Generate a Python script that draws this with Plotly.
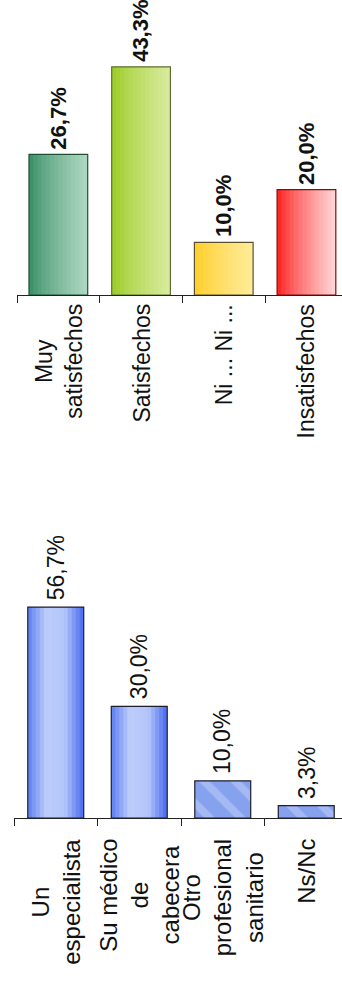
import plotly.graph_objects as go

# datos
cat_sat = ["Muy satisfechos", "Satisfechos", "Ni ... Ni ...", "Insatisfechos"]
lbl_sat = ["Muy<br>satisfechos", "Satisfechos", "Ni ... Ni ...", "Insatisfechos"]
val_sat = [26.7, 43.3, 10.0, 20.0]

cat_prof = ["Un especialista", "Su médico de cabecera", "Otro profesional sanitario", "Ns/Nc"]
lbl_prof = ["Un<br>especialista", "Su médico<br>de<br>cabecera", "Otro<br>profesional<br>sanitario", "Ns/Nc"]
val_prof = [56.7, 30.0, 10.0, 3.3]

FONT = "Liberation Sans, Arial, sans-serif"

# colores (izquierda -> derecha) de cada barra
sat_left = [(52, 140, 98), (152, 202, 30), (255, 204, 34), (255, 22, 22)]
sat_right = [(176, 216, 196), (218, 236, 160), (255, 236, 155), (255, 216, 216)]
sat_edge = ["#1f4f36", "#5f6e34", "#5a5030", "#7a1010"]

prof_cols = [(92, 126, 242), (190, 206, 250), (178, 196, 250), (70, 104, 240)]


def pct(v):
    return f"{v:.1f}%".replace(".", ",")


def mix(c1, c2, t):
    r, g, b = [round(a + (b - a) * t) for a, b in zip(c1, c2)]
    return f"rgb({r},{g},{b})"


def ramp(stops, t):
    n = len(stops) - 1
    k = min(int(t * n), n - 1)
    return mix(stops[k], stops[k + 1], t * n - k)


fig = go.Figure()
N = 14

# grafico superior: satisfaccion (degradado horizontal con tiras)
bw = 0.71
step = bw / N
for i in range(N):
    t = ((i + 0.5) / N) ** 0.75
    fig.add_trace(go.Bar(
        x=cat_sat, y=val_sat, xaxis="x", yaxis="y",
        width=step * (1.4 if i < N - 1 else 1), offset=-bw / 2 + i * step,
        marker=dict(color=[mix(l, r, t) for l, r in zip(sat_left, sat_right)], line_width=0),
        showlegend=False, hoverinfo="skip",
    ))
fig.add_trace(go.Bar(
    x=cat_sat, y=val_sat, xaxis="x", yaxis="y", width=bw, offset=-bw / 2,
    marker=dict(color="rgba(0,0,0,0)", line=dict(color=sat_edge, width=1.2)),
    showlegend=False,
))

# grafico inferior: a quien acude
bw2 = 0.67
step2 = bw2 / N
for i in range(N):
    t = (i + 0.5) / N
    fig.add_trace(go.Bar(
        x=cat_prof[:2], y=val_prof[:2], xaxis="x2", yaxis="y2",
        width=step2 * (1.4 if i < N - 1 else 1), offset=-bw2 / 2 + i * step2,
        marker=dict(color=ramp(prof_cols, t), line_width=0),
        showlegend=False, hoverinfo="skip",
    ))
fig.add_trace(go.Bar(
    x=cat_prof[2:], y=val_prof[2:], xaxis="x2", yaxis="y2", width=bw2, offset=-bw2 / 2,
    marker=dict(color="#8aa5ef", line_width=0,
                pattern=dict(shape="\\", fgcolor="#c4d2fa", bgcolor="#86a2ee", size=22, solidity=0.35)),
    showlegend=False,
))
fig.add_trace(go.Bar(
    x=cat_prof, y=val_prof, xaxis="x2", yaxis="y2", width=bw2, offset=-bw2 / 2,
    marker=dict(color="rgba(0,0,0,0)", line=dict(color="#1e1e2a", width=1.2)),
    showlegend=False,
))

ann = []
for c, l, v in zip(cat_sat, lbl_sat, val_sat):
    ann.append(dict(x=c, y=0, xref="x", yref="y", text=l, textangle=-90, showarrow=False,
                    xanchor="center", yanchor="top", yshift=-7, align="center",
                    font=dict(family=FONT, size=23, color="#111")))
    ann.append(dict(x=c, y=v, xref="x", yref="y", text="<b>" + pct(v) + "</b>", textangle=-90,
                    showarrow=False, xanchor="center", yanchor="bottom", yshift=3,
                    font=dict(family=FONT, size=22, color="#111")))
for c, l, v in zip(cat_prof, lbl_prof, val_prof):
    ann.append(dict(x=c, y=0, xref="x2", yref="y2", text=l, textangle=-90, showarrow=False,
                    xanchor="center", yanchor="top", yshift=-19, align="center",
                    font=dict(family=FONT, size=24, color="#111")))
    ann.append(dict(x=c, y=v, xref="x2", yref="y2", text=pct(v), textangle=-90,
                    showarrow=False, xanchor="center", yanchor="bottom", yshift=5,
                    font=dict(family=FONT, size=23, color="#111")))

H = 981
W = 342
xax = dict(type="category", showline=True, linecolor="#222", linewidth=1, ticks="outside",
           tickson="boundaries", ticklen=7, tickcolor="#222", showticklabels=False,
           showgrid=False, zeroline=False, fixedrange=True)

fig.update_layout(
    width=W, height=H,
    margin=dict(l=0, r=0, t=0, b=0),
    paper_bgcolor="white", plot_bgcolor="white",
    barmode="overlay",
    xaxis=dict(xax, domain=[17 / W, 1], range=[-0.5, -0.5 + 325 / 82.7], anchor="y"),
    yaxis=dict(domain=[1 - 295 / H, 1], range=[0, 295 / 5.27], visible=False, anchor="x"),
    xaxis2=dict(xax, domain=[14 / W, 1], range=[-0.5, -0.5 + 328 / 83.5], anchor="y2"),
    yaxis2=dict(domain=[163 / H, 421 / H], range=[0, 258 / 3.72], visible=False, anchor="x2"),
    annotations=ann,
    font=dict(family=FONT),
)

# quitar el margen por defecto del body para que la figura empiece en (0, 0)
fig.write_html("out.html", config={"displayModeBar": False},
               post_script="document.body.style.margin='0px';")
